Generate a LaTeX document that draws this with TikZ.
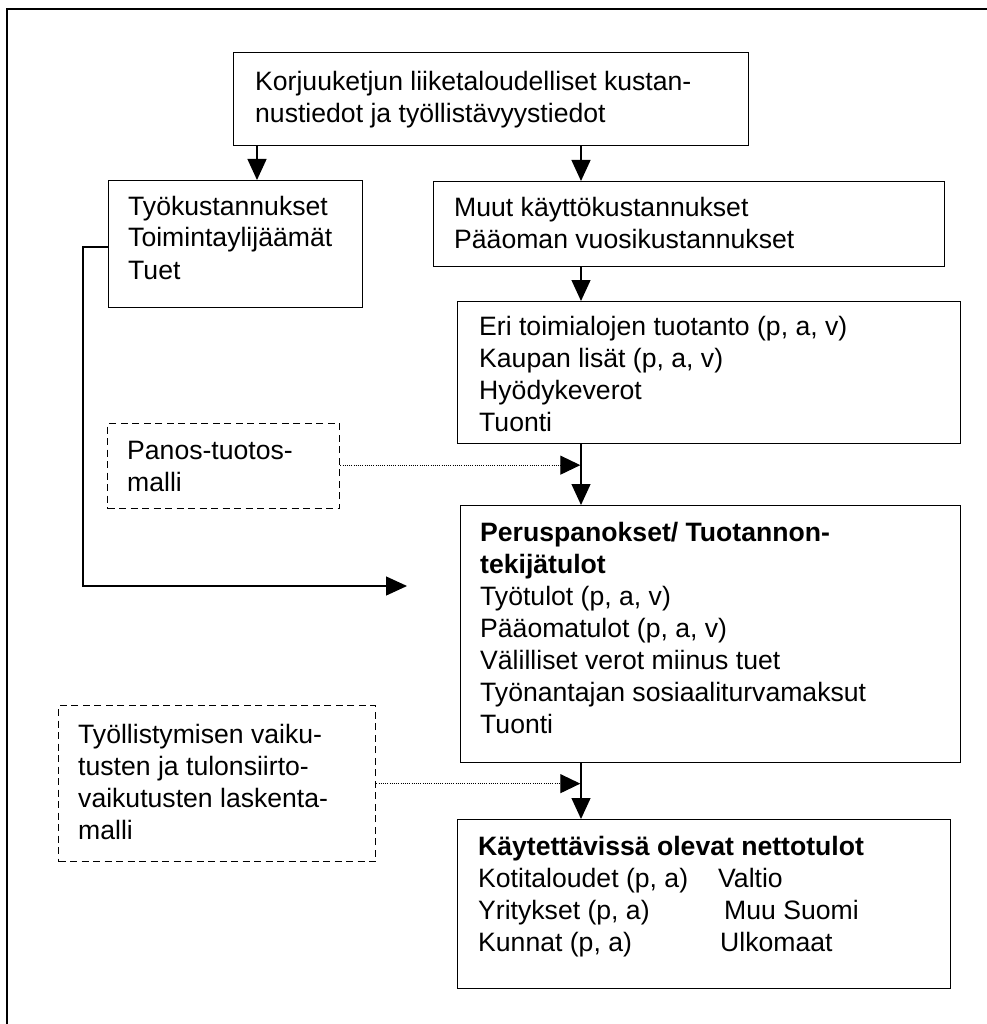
\documentclass[tikz,border=0pt]{standalone}
\usepackage{fontspec}
\setmainfont{Liberation Sans}
\usetikzlibrary{arrows.meta,calc}
\newcommand{\dfont}{\fontsize{26.6}{32}\selectfont}
\newcommand{\lines}[1]{\parbox[t]{600pt}{\raggedright\dfont #1}}
\tikzset{
  box/.style={draw, line width=1.3pt, inner sep=0pt, anchor=north west},
  dbox/.style={draw, line width=1.3pt, inner sep=0pt, anchor=north west, dash pattern=on 7pt off 4.5pt},
  txt/.style={anchor=base west, inner sep=0pt},
  arr/.style={line width=1.3pt, -{Triangle[length=21pt,width=19pt]}},
  darr/.style={line width=1.1pt, dash pattern=on 1.1pt off 1.1pt, -{Triangle[length=20pt,width=19pt,sep=0pt]}},
  frame/.style={line width=2pt}
}
\begin{document}
\begin{tikzpicture}[x=1pt,y=1pt]
\useasboundingbox (0,0) rectangle (986,-1024);
% outer frame (right and bottom sides lie outside the picture)
\draw[frame] (7,-1030) -- (7,-9) -- (992,-9);

% boxes
\node[box, minimum width=515pt, minimum height=93pt]  (top)   at (233,-52)  {};
\node[box, minimum width=254pt, minimum height=127pt] (work)  at (108,-180) {};
\node[box, minimum width=511pt, minimum height=85pt]  (muut)  at (433,-181) {};
\node[box, minimum width=503pt, minimum height=142pt] (eri)   at (457,-301) {};
\node[dbox, minimum width=232pt, minimum height=85pt] (panos) at (107,-423) {};
\node[box, minimum width=500pt, minimum height=257pt] (perus) at (460,-505) {};
\node[dbox, minimum width=317pt, minimum height=156pt] (tyoll) at (58,-705) {};
\node[box, minimum width=493pt, minimum height=169pt] (kayt)  at (457,-819) {};

% texts
\node[txt] (ttop) at (255,-91) {\lines{Korjuuketjun liiketaloudelliset kustan-\\nustiedot ja työllistävyystiedot}};
\node[txt] (twork) at (128,-215) {\lines{Työkustannukset\\Toimintaylijäämät\\Tuet}};
\node[txt] (tmuut) at (454,-217) {\lines{Muut käyttökustannukset\\Pääoman vuosikustannukset}};
\node[txt] (teri) at (479,-335) {\lines{Eri toimialojen tuotanto (p, a, v)\\Kaupan lisät (p, a, v)\\Hyödykeverot\\Tuonti}};
\node[txt] (tpanos) at (127,-459) {\lines{Panos-tuotos-\\malli}};
\node[txt] (tperus) at (480,-541) {\lines{\textbf{Peruspanokset/ Tuotannon-}\\\textbf{tekijätulot}\\Työtulot (p, a, v)\\Pääomatulot (p, a, v)\\Välilliset verot miinus tuet\\Työnantajan sosiaaliturvamaksut\\Tuonti}};
\node[txt] (ttyoll) at (78,-743) {\lines{Työllistymisen vaiku-\\tusten ja tulonsiirto-\\vaikutusten laskenta-\\malli}};
\node[txt] (tkayt) at (478,-855) {\lines{\textbf{Käytettävissä olevat nettotulot}\\Kotitaloudet (p, a)\\Yritykset (p, a)\\Kunnat (p, a)}};
\node[txt] (tkayt2) at (718,-887) {\lines{Valtio\\\hspace*{6pt}Muu Suomi\\\hspace*{2pt}Ulkomaat}};

% connector columns
\coordinate (cl) at (257,0);
\coordinate (cr) at (581,0);
\coordinate (lx) at (83,-247);
\coordinate (ltip) at (407,-586);

\draw[arr] (top.south -| cl) -- (work.north -| cl);
\draw[arr] (top.south -| cr) -- (muut.north -| cr);
\draw[arr] (muut.south -| cr) -- (eri.north -| cr);
\draw[arr] (eri.south -| cr) -- (perus.north -| cr);
\draw[arr] (perus.south -| cr) -- (kayt.north -| cr);
\draw[arr] (work.west |- lx) -- (lx) |- (ltip);

\coordinate (pt1) at ($(panos.east)+(0,1)$);
\coordinate (pt2) at ($(tyoll.east)+(0,0)$);
\draw[darr] (pt1) -- ([xshift=-0.7pt]pt1 -| cr);
\draw[darr] (pt2) -- ([xshift=-0.7pt]pt2 -| cr);
\end{tikzpicture}
\end{document}
